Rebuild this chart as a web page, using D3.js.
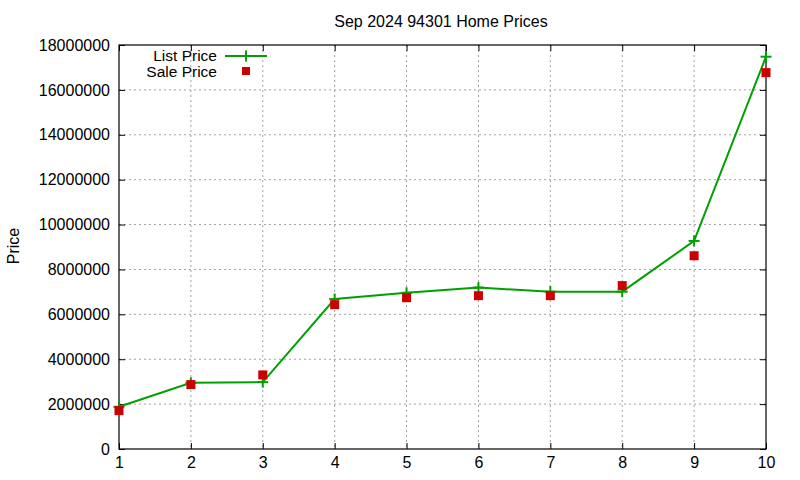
<!DOCTYPE html>
<html>
<head>
<meta charset="utf-8">
<script src="https://cdn.jsdelivr.net/npm/d3@7"></script>
<style>
  body { margin: 0; background: #fff; }
  text { font-family: "Liberation Sans", Arial, sans-serif; }
</style>
</head>
<body>
<svg width="800" height="480"></svg>
<script>
// data
var ranks = [1, 2, 3, 4, 5, 6, 7, 8, 9, 10];
var listPrice = [1880000, 2950000, 2980000, 6680000, 6960000, 7190000, 7010000, 7010000, 9270000, 17480000];
var salePrice = [1710000, 2870000, 3300000, 6430000, 6740000, 6830000, 6830000, 7280000, 8610000, 16770000];
var yTicks = [0, 2000000, 4000000, 6000000, 8000000, 10000000, 12000000, 14000000, 16000000, 18000000];

var svg = d3.select('svg');
var pLeft = 119, pRight = 766, pTop = 45, pBottom = 449;

var x = d3.scaleLinear().domain([1, 10]).range([pLeft, pRight]);
var y = d3.scaleLinear().domain([0, 18000000]).range([pBottom, pTop]);

// grid
var gridG = svg.append('g');
ranks.slice(1, -1).forEach(function(d){
  gridG.append('line').attr('x1', x(d)).attr('x2', x(d)).attr('y1', pTop).attr('y2', pBottom)
    .style('stroke', '#a0a0a0').style('stroke-dasharray', '2,3');
});
yTicks.slice(1, -1).forEach(function(d){
  gridG.append('line').attr('x1', pLeft).attr('x2', pRight).attr('y1', y(d)).attr('y2', y(d))
    .style('stroke', '#a0a0a0').style('stroke-dasharray', '2,3');
});

// axes (gnuplot style: inward ticks, mirrored)
var axisStyle = function(g){ g.select('.domain').remove(); g.selectAll('.tick line').style('stroke', '#000'); g.selectAll('text').style('font-size', '16px').style('fill', '#000').style('font-family', '"Liberation Sans", Arial, sans-serif'); };
svg.append('g').attr('transform', 'translate(0,' + pBottom + ')')
  .call(d3.axisBottom(x).tickValues(ranks).tickFormat(d3.format('d')).tickSizeInner(-6).tickPadding(8)).call(axisStyle);
svg.append('g').attr('transform', 'translate(0,' + pTop + ')')
  .call(d3.axisTop(x).tickValues(ranks).tickFormat('').tickSizeInner(-6)).call(axisStyle);
svg.append('g').attr('transform', 'translate(' + pLeft + ',0)')
  .call(d3.axisLeft(y).tickValues(yTicks).tickFormat(d3.format('d')).tickSizeInner(-6).tickPadding(9)).call(axisStyle);
svg.append('g').attr('transform', 'translate(' + pRight + ',0)')
  .call(d3.axisRight(y).tickValues(yTicks).tickFormat('').tickSizeInner(-6)).call(axisStyle);

svg.append('rect').attr('x', pLeft).attr('y', pTop).attr('width', pRight - pLeft).attr('height', pBottom - pTop)
  .style('fill', 'none').style('stroke', '#000').style('stroke-width', 1.2);

// list price line
var line = d3.line().x(function(d, i){ return x(ranks[i]); }).y(function(d){ return y(d); });
svg.append('path').datum(listPrice).attr('d', line)
  .style('fill', 'none').style('stroke', '#00a000').style('stroke-width', 2);
var cross = function(g, cx, cy){
  g.append('line').attr('x1', cx - 5.5).attr('x2', cx + 5.5).attr('y1', cy).attr('y2', cy).style('stroke', '#00a000').style('stroke-width', 2);
  g.append('line').attr('x1', cx).attr('x2', cx).attr('y1', cy - 5.5).attr('y2', cy + 5.5).style('stroke', '#00a000').style('stroke-width', 2);
};
var crossG = svg.append('g');
listPrice.forEach(function(d, i){ cross(crossG, x(ranks[i]), y(d)); });

// sale price squares
svg.append('g').selectAll('rect').data(salePrice).enter().append('rect')
  .attr('x', function(d, i){ return x(ranks[i]) - 4.5; })
  .attr('y', function(d){ return y(d) - 4.5; })
  .attr('width', 9).attr('height', 9)
  .style('fill', '#cc0000');

// legend
var leg = svg.append('g');
leg.append('text').attr('x', 217).attr('y', 56).attr('dy', '0.35em').style('text-anchor', 'end').style('font-size', '15.5px').text('List Price');
leg.append('line').attr('x1', 225).attr('x2', 267).attr('y1', 56).attr('y2', 56).style('stroke', '#00a000').style('stroke-width', 2);
cross(leg, 246, 56);
leg.append('text').attr('x', 217).attr('y', 71.5).attr('dy', '0.35em').style('text-anchor', 'end').style('font-size', '15.5px').text('Sale Price');
leg.append('rect').attr('x', 242).attr('y', 67).attr('width', 8).attr('height', 8).style('fill', '#cc0000');

// title and axis label
svg.append('text').attr('x', 441).attr('y', 21).attr('dy', '0.35em').style('text-anchor', 'middle').style('font-size', '16px').text('Sep 2024 94301 Home Prices');
svg.append('text').attr('transform', 'translate(13,246) rotate(-90)').attr('dy', '0.35em').style('text-anchor', 'middle').style('font-size', '16px').text('Price');
</script>
</body>
</html>
